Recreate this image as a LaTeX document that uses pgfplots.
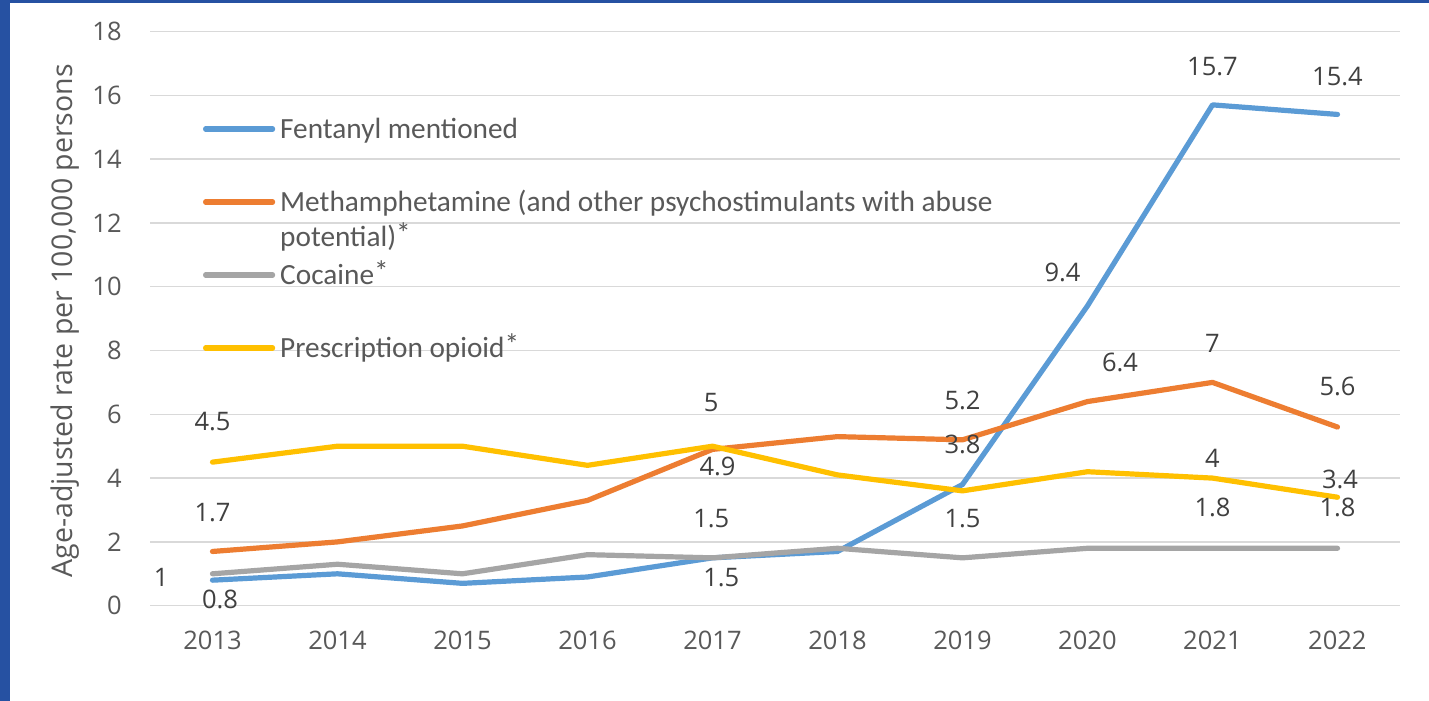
\documentclass[border=0pt]{standalone}
\usepackage{fontspec}
\setmainfont{Open Sans}
\newfontfamily\legfont{Carlito}
\usepackage{pgfplots}
\usepackage{pgfplotstable}
\pgfplotsset{compat=1.18}

\definecolor{cFen}{HTML}{5B9BD5}
\definecolor{cMeth}{HTML}{ED7D31}
\definecolor{cCoc}{HTML}{A5A5A5}
\definecolor{cRx}{HTML}{FFC000}
\definecolor{txt}{HTML}{595959}
\definecolor{lab}{HTML}{404040}
\definecolor{gridc}{HTML}{D9D9D9}
\definecolor{frame}{HTML}{2651A2}

\newcommand\legast{\raisebox{0.1em}{*}}

% age-adjusted rate per 100,000
\pgfplotstableread{
year fen  meth coc rx
2013 0.8  1.7  1.0 4.5
2014 1.0  2.0  1.3 5.0
2015 0.7  2.5  1.0 5.0
2016 0.9  3.3  1.6 4.4
2017 1.5  4.9  1.5 5.0
2018 1.7  5.3  1.8 4.1
2019 3.8  5.2  1.5 3.6
2020 9.4  6.4  1.8 4.2
2021 15.7 7.0  1.8 4.0
2022 15.4 5.6  1.8 3.4
}\rates

\begin{document}
\begin{tikzpicture}[dl/.style={font=\fontsize{12.8}{15}\selectfont, text=lab, inner sep=0pt}]
\useasboundingbox (0,0) rectangle (714.5bp,350.5bp);
\fill[white] (0,0) rectangle (714.5bp,350.5bp);
\fill[frame] (0,0) rectangle (4.75bp,350.5bp);
\fill[frame] (0,348.75bp) rectangle (714.5bp,350.5bp);
\begin{axis}[
  at={(75bp,47.65bp)}, anchor=south west,
  scale only axis, width=625bp, height=287.1bp,
  xmin=2012.5, xmax=2022.5, ymin=0, ymax=18,
  xtick={2013,...,2022}, ytick={0,2,...,18},
  clip=false,
  axis line style={draw=none}, major tick length=0pt,
  ymajorgrids, grid style={gridc, line width=0.75bp},
  /pgf/number format/assume math mode=true,
  /pgf/number format/set thousands separator={},
  tick label style={font=\fontsize{12.8}{15}\selectfont, text=txt},
  xticklabel style={inner sep=0pt, anchor=north, yshift=-12.5bp},
  yticklabel style={inner sep=0pt, anchor=east, xshift=-14bp},
  ylabel={Age-adjusted rate per 100,000 persons},
  every axis y label/.style={at={(axis description cs:-0.0624,0.496)}, rotate=90, anchor=base,
    font=\fontsize{14.3}{17}\selectfont, text=txt, inner sep=0pt},
  legend cell align=left,
  legend style={at={(axis description cs:0.0424,0.8464)}, anchor=north west,
    draw=none, fill=none, inner sep=0pt, outer sep=0pt,
    row sep=27.2bp, column sep=2.5bp,
    font=\legfont\fontsize{14.7}{17.5}\selectfont, text=txt,
    nodes={inner sep=0pt, text height=9.3bp, text depth=0pt}},
  legend image code/.code={\draw[#1] (0bp,0bp) -- (33.5bp,0bp);},
  every axis plot/.append style={line width=2.6bp, line join=round, line cap=round},
]
\addplot[cFen] table[x=year, y=fen] {\rates};
\addlegendentry{Fentanyl mentioned}
\addplot[cMeth] table[x=year, y=meth] {\rates};
\addlegendentry{\begin{tabular}[t]{@{}l@{}}Methamphetamine (and other psychostimulants with abuse\\potential)\legast\end{tabular}}
\addplot[cCoc] table[x=year, y=coc] {\rates};
\addlegendentry{Cocaine\legast}
\addplot[cRx] table[x=year, y=rx] {\rates};
\addlegendentry{Prescription opioid\legast}

% data labels where the source shows them
\node[dl] at (axis cs:2013,5.76) {4.5};
\node[dl] at (axis cs:2013,2.93) {1.7};
\node[dl] at (axis cs:2012.59,0.88) {1};
\node[dl] at (axis cs:2013.06,0.21) {0.8};
\node[dl] at (axis cs:2016.99,6.37) {5};
\node[dl] at (axis cs:2017.04,4.35) {4.9};
\node[dl] at (axis cs:2016.99,2.72) {1.5};
\node[dl] at (axis cs:2017.07,0.88) {1.5};
\node[dl] at (axis cs:2019,6.42) {5.2};
\node[dl] at (axis cs:2019,5.04) {3.8};
\node[dl] at (axis cs:2019,2.73) {1.5};
\node[dl] at (axis cs:2019.8,10.45) {9.4};
\node[dl] at (axis cs:2020.26,7.64) {6.4};
\node[dl] at (axis cs:2021,16.9) {15.7};
\node[dl] at (axis cs:2021,8.23) {7};
\node[dl] at (axis cs:2021,4.63) {4};
\node[dl] at (axis cs:2021,3.09) {1.8};
\node[dl] at (axis cs:2022,16.6) {15.4};
\node[dl] at (axis cs:2022,6.86) {5.6};
\node[dl] at (axis cs:2022.02,3.97) {3.4};
\node[dl] at (axis cs:2022,3.09) {1.8};
\end{axis}
\end{tikzpicture}
\end{document}
